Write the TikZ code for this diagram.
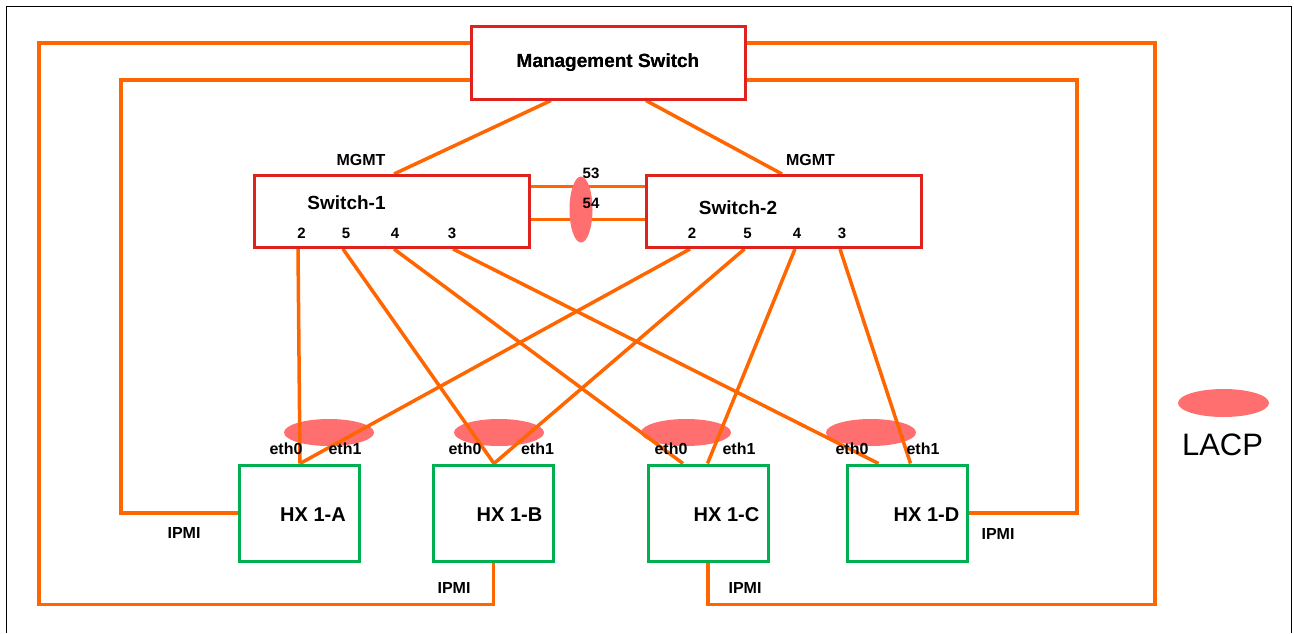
\documentclass[tikz,border=0pt]{standalone}
\usepackage{fontspec}
\setmainfont{Liberation Sans}
\definecolor{orng}{RGB}{255,102,0}
\definecolor{boxred}{RGB}{224,34,30}
\definecolor{boxgreen}{RGB}{0,176,80}
\definecolor{lacpc}{RGB}{255,111,111}
\tikzset{
  link/.style={draw=orng, line width=3.5pt},
  swbox/.style={draw=boxred, line width=3pt, rectangle, inner sep=0pt},
  hxbox/.style={draw=boxgreen, line width=3pt, rectangle, inner sep=0pt, minimum width=120pt, minimum height=96pt},
  big/.style={font=\bfseries\fontsize{19}{22}\selectfont, inner sep=0pt},
  small/.style={font=\bfseries\fontsize{16}{18}\selectfont, inner sep=0pt},
  port/.style={font=\bfseries\fontsize{15}{17}\selectfont, inner sep=0pt},
  lacpfill/.style={fill=lacpc}
}
\begin{document}
\begin{tikzpicture}[x=1pt,y=-1pt]
\useasboundingbox (0,0) rectangle (1294,633);
% frame
\draw[black, line width=1pt] (6.5,633) -- (6.5,6.5) -- (1291,6.5) -- (1291,633);

% boxes (placed first as nodes)
\node[swbox, minimum width=274pt, minimum height=73pt, big] (mgmt) at (608,62.5) {Management Switch};
\node[swbox, minimum width=275pt, minimum height=72pt] (sw1) at (391.5,211.5) {};
\node[swbox, minimum width=275pt, minimum height=72pt] (sw2) at (783.5,211.5) {};
\node[hxbox] (hxA) at (299,513) {};
\node[hxbox] (hxB) at (493.5,513) {};
\node[hxbox] (hxC) at (708,513) {};
\node[hxbox] (hxD) at (907,513) {};

% IPMI / management wiring
\draw[link] (mgmt.west |- 0,43) -| (39,604.5) -| (hxB.south);
\draw[link] (mgmt.west |- 0,80) -| (121,513) -- (hxA.west);
\draw[link] (mgmt.east |- 0,43) -| (1155,604.5) -| (hxC.south);
\draw[link] (mgmt.east |- 0,80) -| (1077,513) -- (hxD.east);

% mgmt uplinks
\draw[link] (mgmt.south -| 551,0) -- (sw1.north -| 394,0);
\draw[link] (mgmt.south -| 646,0) -- (sw2.north -| 782,0);

% LACP ellipses at hosts
\fill[lacpfill] (329,432.5) ellipse [x radius=45, y radius=13.5];
\fill[lacpfill] (499,432.5) ellipse [x radius=45, y radius=13.5];
\fill[lacpfill] (686,432.5) ellipse [x radius=45, y radius=13.5];
\fill[lacpfill] (871,432.5) ellipse [x radius=45, y radius=13.5];

% port coordinates
\coordinate (s1p2) at (sw1.south -| 298,0);
\coordinate (s1p5) at (sw1.south -| 343,0);
\coordinate (s1p4) at (sw1.south -| 394,0);
\coordinate (s1p3) at (sw1.south -| 453,0);
\coordinate (s2p2) at (sw2.south -| 690,0);
\coordinate (s2p5) at (sw2.south -| 744.5,0);
\coordinate (s2p4) at (sw2.south -| 795,0);
\coordinate (s2p3) at (sw2.south -| 840,0);
\coordinate (a0) at (hxA.north -| 300,0);
\coordinate (b0) at (hxB.north -| 494,0);
\coordinate (c0) at (hxC.north -| 683,0);
\coordinate (c1) at (hxC.north -| 707.5,0);
\coordinate (d0) at (hxD.north -| 878.5,0);
\coordinate (d1) at (hxD.north -| 910.5,0);

\draw[link] (s1p2) -- (a0);
\draw[link] (s1p5) -- (b0);
\draw[link] (s1p4) -- (c0);
\draw[link] (s1p3) -- (d0);
\draw[link] (s2p2) -- (a0);
\draw[link] (s2p5) -- (b0);
\draw[link] (s2p4) -- (c1);
\draw[link] (s2p3) -- (d1);

% inter-switch links
\draw[link] (sw1.east |- 0,186.5) -- (sw2.west |- 0,186.5);
\draw[link] (sw1.east |- 0,219.5) -- (sw2.west |- 0,219.5);
\fill[lacpfill] (581,209.5) ellipse [x radius=11.5, y radius=33];

% redraw boxes on top
\node[swbox, minimum width=274pt, minimum height=73pt, big] at (mgmt) {Management Switch};
\node[swbox, minimum width=275pt, minimum height=72pt] at (sw1) {};
\node[swbox, minimum width=275pt, minimum height=72pt] at (sw2) {};
\node[hxbox] at (hxA) {};
\node[hxbox] at (hxB) {};
\node[hxbox] at (hxC) {};
\node[hxbox] at (hxD) {};

% labels
\node[big] (sw1t) at (346.5,203) {Switch-1};
\node[big] (sw2t) at (738,208) {Switch-2};
\node[big, font=\bfseries\fontsize{20}{22}\selectfont] (hxAt) at (313,515) {HX 1-A};
\node[big, font=\bfseries\fontsize{20}{22}\selectfont] (hxBt) at (509.5,515) {HX 1-B};
\node[big, font=\bfseries\fontsize{20}{22}\selectfont] (hxCt) at (726.5,515) {HX 1-C};
\node[big, font=\bfseries\fontsize{20}{22}\selectfont] (hxDt) at (926.5,515) {HX 1-D};

\node[port] (l12) at (301.5,233) {2};
\node[port] (l15) at (346,233) {5};
\node[port] (l14) at (395,233) {4};
\node[port] (l13) at (452,233) {3};
\node[port] (l22) at (692,233) {2};
\node[port] (l25) at (747.5,233) {5};
\node[port] (l24) at (797,233) {4};
\node[port] (l23) at (842,233) {3};
\node[port] (l53) at (591,173) {53};
\node[port] (l54) at (591,203) {54};

\node[small] (mg1) at (361,160) {MGMT};
\node[small] (mg2) at (810.5,160) {MGMT};

\node[small] (ea0) at (286,449) {eth0};
\node[small] (ea1) at (345,449) {eth1};
\node[small] (eb0) at (465,449) {eth0};
\node[small] (eb1) at (537.5,449) {eth1};
\node[small] (ec0) at (671,449) {eth0};
\node[small] (ec1) at (739,449) {eth1};
\node[small] (ed0) at (852,449) {eth0};
\node[small] (ed1) at (923,449) {eth1};

\node[small] (ipA) at (184,533) {IPMI};
\node[small] (ipB) at (454,588) {IPMI};
\node[small] (ipC) at (745,588) {IPMI};
\node[small] (ipD) at (998,534) {IPMI};

% legend
\fill[lacpfill] (1223.5,403) ellipse [x radius=45.5, y radius=14];
\node[inner sep=0pt, font=\fontsize{31}{34}\selectfont] (lacpt) at (1222.5,445) {LACP};
\end{tikzpicture}
\end{document}
